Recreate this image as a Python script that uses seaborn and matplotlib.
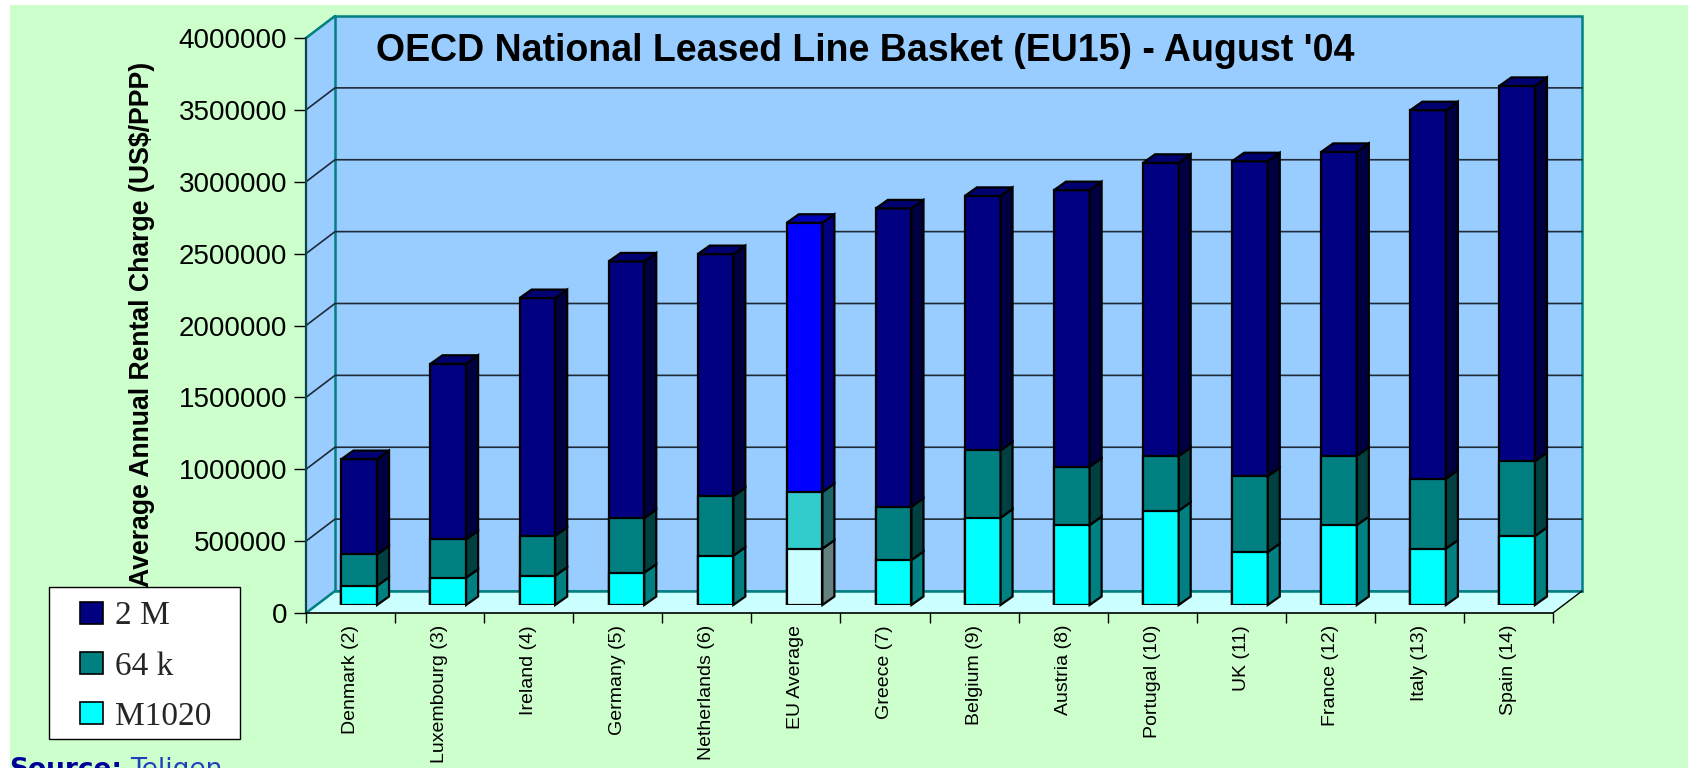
import matplotlib
matplotlib.use("Agg")
import matplotlib.pyplot as plt
from matplotlib.patches import Polygon, Rectangle, Patch
import numpy as np
import pandas as pd
import seaborn as sns

# ---- data -------------------------------------------------------------
categories = ["Denmark (2)", "Luxembourg (3)", "Ireland (4)", "Germany (5)",
              "Netherlands (6)", "EU Average", "Greece (7)", "Belgium (9)",
              "Austria (8)", "Portugal (10)", "UK (11)", "France (12)",
              "Italy (13)", "Spain (14)"]
m1020 = [134000, 190000, 204000, 225000, 343000, 392000, 313000, 607000,
         556000, 656000, 368000, 556000, 392000, 480000]
k64 = [218000, 267000, 278000, 380000, 415000, 394000, 371000, 469000,
       406000, 380000, 528000, 482000, 487000, 521000]
m2 = [663000, 1221000, 1653000, 1785000, 1683000, 1873000, 2075000, 1770000,
      1924000, 2040000, 2191000, 2114000, 2563000, 2610000]
series_names = ["2 M", "64 k", "M1020"]
highlight = "EU Average"
y_ticks = [0, 500000, 1000000, 1500000, 2000000, 2500000, 3000000,
           3500000, 4000000]
title = "OECD National Leased Line Basket (EU15) - August '04"
y_label = "Average Annual Rental Charge (US$/PPP)"

# ---- colours: (front, side, top) for normal and highlighted columns ------
colors = {
    "2 M":   {"normal": ("#000080", "#000040", "#000070"),
              "hi":     ("#0000FF", "#000080", "#0000B8")},
    "64 k":  {"normal": ("#008080", "#004040", "#006666"),
              "hi":     ("#33CCCC", "#1A6666", "#29A3A3")},
    "M1020": {"normal": ("#00FFFF", "#008080", "#00CCCC"),
              "hi":     ("#CCFFFF", "#668080", "#A3CCCC")},
}

sns.set_theme(style="white")
plt.rcParams["font.family"] = ["Liberation Sans", "DejaVu Sans"]

W, H = 1688, 768
fig = plt.figure(figsize=(W / 100, H / 100), dpi=100)
fig.patch.set_facecolor("white")


def fx(px):
    return px / W


def fy(py):
    return 1 - py / H


# page background
fig.add_artist(Rectangle((fx(10), 0), 1 - fx(10), fy(5), transform=fig.transFigure,
                         facecolor="#CCFFCC", edgecolor="none", zorder=-5))

# ---- frame axes (front plane: value axis + category axis) ------------
L, R, T, B = 306, 1553, 38, 613
ncat = len(categories)
ymax = y_ticks[-1]
px_cat = (R - L) / ncat
px_val = (B - T) / ymax

ax = fig.add_axes([fx(L), fy(B), (R - L) / W, (B - T) / H])
ax.set_xlim(-0.5, ncat - 0.5)
ax.set_ylim(0, ymax)
ax.patch.set_alpha(0)

x0, x1 = -0.5, ncat - 0.5
dxw, dyw = 29 / px_cat, 22 / px_val          # depth of the chart box
wall_c, floor_c, teal = "#99CCFF", "#CCFFFF", "#008080"

ax.add_patch(Polygon([(x0, 0), (x0 + dxw, dyw), (x0 + dxw, ymax + dyw), (x0, ymax)],
                     closed=True, fc=wall_c, ec="none", clip_on=False, zorder=0.2))
ax.add_patch(Polygon([(x0 + dxw, dyw), (x1 + dxw, dyw), (x1 + dxw, ymax + dyw),
                      (x0 + dxw, ymax + dyw)], closed=True, fc=wall_c, ec=teal,
                     lw=1.8, clip_on=False, zorder=0.3))
ax.add_patch(Polygon([(x0, 0), (x1, 0), (x1 + dxw, dyw), (x0 + dxw, dyw)],
                     closed=True, fc=floor_c, ec="none", clip_on=False, zorder=0.4))
ax.plot([x0, x0 + dxw], [ymax, ymax + dyw], color=teal, lw=1.8, clip_on=False, zorder=0.6)
ax.plot([x0, x0 + dxw], [0, dyw], color=teal, lw=1.8, clip_on=False, zorder=0.6)
ax.plot([x0 + dxw, x1 + dxw], [dyw, dyw], color=teal, lw=1.8, clip_on=False, zorder=0.6)
ax.plot([x1, x1 + dxw], [0, dyw], color="black", lw=1.0, clip_on=False, zorder=0.6)

for v in y_ticks[1:-1]:
    ax.plot([x0, x0 + dxw, x1 + dxw], [v, v + dyw, v + dyw], color="#1e2a36",
            lw=1.2, clip_on=False, zorder=0.5)

for s in ["top", "right"]:
    ax.spines[s].set_visible(False)
ax.spines["left"].set_color("#0b4545")
ax.spines["left"].set_linewidth(1.6)
ax.spines["bottom"].set_color("black")
ax.spines["bottom"].set_linewidth(1.2)

ax.set_yticks(y_ticks)
ax.set_yticklabels([str(v) for v in y_ticks])
ax.tick_params(axis="y", left=True, length=8.6, width=1, color="black",
               pad=5, labelsize=20, labelcolor="black")
ax.set_xticks(range(ncat))
ax.set_xticklabels(categories, rotation=90)
ax.set_xticks(np.arange(-0.5, ncat), minor=True)
ax.tick_params(axis="x", which="major", bottom=True, length=0, pad=8.6,
               labelsize=14, labelcolor="black")
ax.tick_params(axis="x", which="minor", bottom=True, length=7.2, width=1,
               color="black")
ax.grid(False)

# ---- bars axes (plane of the column fronts) --------------------------
axb = fig.add_axes([fx(L + 8.7), fy(B - 8), (R - L) / W, (B - T) / H])
axb.patch.set_alpha(0)

lvl1 = np.array(m1020)
lvl2 = lvl1 + np.array(k64)
lvl3 = lvl2 + np.array(m2)
levels = [lvl1, lvl2, lvl3]
order = ["M1020", "64 k", "2 M"]
bw = 0.4

for name, tops in zip(["2 M", "64 k", "M1020"], [lvl3, lvl2, lvl1]):
    df = pd.DataFrame({"country": categories, "value": tops})
    pal = {c: colors[name]["hi" if c == highlight else "normal"][0] for c in categories}
    sns.barplot(data=df, x="country", y="value", hue="country", palette=pal,
                legend=False, width=bw, saturation=1, edgecolor="black",
                linewidth=1.6, ax=axb, zorder=2)

ddx, ddy = 12 / px_cat, 8.5 / px_val        # depth of each column
for i, c in enumerate(categories):
    key = "hi" if c == highlight else "normal"
    xl, xr = i - bw / 2, i + bw / 2
    bottom = 0
    for name, lv in zip(order, levels):
        top = lv[i]
        side = colors[name][key][1]
        axb.add_patch(Polygon([(xr, bottom), (xr + ddx, bottom + ddy),
                               (xr + ddx, top + ddy), (xr, top)], closed=True,
                              fc=side, ec="black", lw=1.6, clip_on=False,
                              zorder=2.5))
        bottom = top
    axb.add_patch(Polygon([(xl, bottom), (xl + ddx, bottom + ddy),
                           (xr + ddx, bottom + ddy), (xr, bottom)], closed=True,
                          fc=colors["2 M"][key][2], ec="black", lw=1.6,
                          clip_on=False, zorder=2.5))

axb.set_xlim(-0.5, ncat - 0.5)
axb.set_ylim(0, ymax)
axb.axis("off")

# ---- texts -------------------------------------------------------------
fig.text(fx(376), fy(51), title, ha="left", va="center", fontsize=27,
         fontweight="bold", color="black", zorder=3)
fig.text(fx(142), fy(324), y_label, rotation=90, ha="center", va="center",
         fontsize=19.2, fontweight="bold", color="black", zorder=2)
fig.text(fx(9), fy(757), "Source:", ha="left", va="top", fontsize=19,
         fontweight="bold", color="#000099", family="DejaVu Sans", zorder=3)
fig.text(fx(130), fy(757), "Teligen", ha="left", va="top", fontsize=19,
         color="#1F3FBF", family="DejaVu Sans", zorder=3)

# ---- legend --------------------------------------------------------------
fig.add_artist(Rectangle((fx(49), fy(739)), (240 - 49) / W, (739 - 587) / H,
                         transform=fig.transFigure, fc="white", ec="black",
                         lw=1.0, zorder=4))
handles = [Patch(fc=colors[n]["normal"][0], ec="black", lw=1.2) for n in series_names]
leg = fig.legend(handles, series_names, loc="upper left",
                 bbox_to_anchor=(fx(80), fy(601)), frameon=False,
                 prop={"family": "Liberation Serif", "size": 24},
                 handlelength=0.7, handleheight=0.65, handletextpad=0.35,
                 labelspacing=0.59, borderpad=0, borderaxespad=0)
leg.set_zorder(6)

fig.savefig("out.png", dpi=100)
